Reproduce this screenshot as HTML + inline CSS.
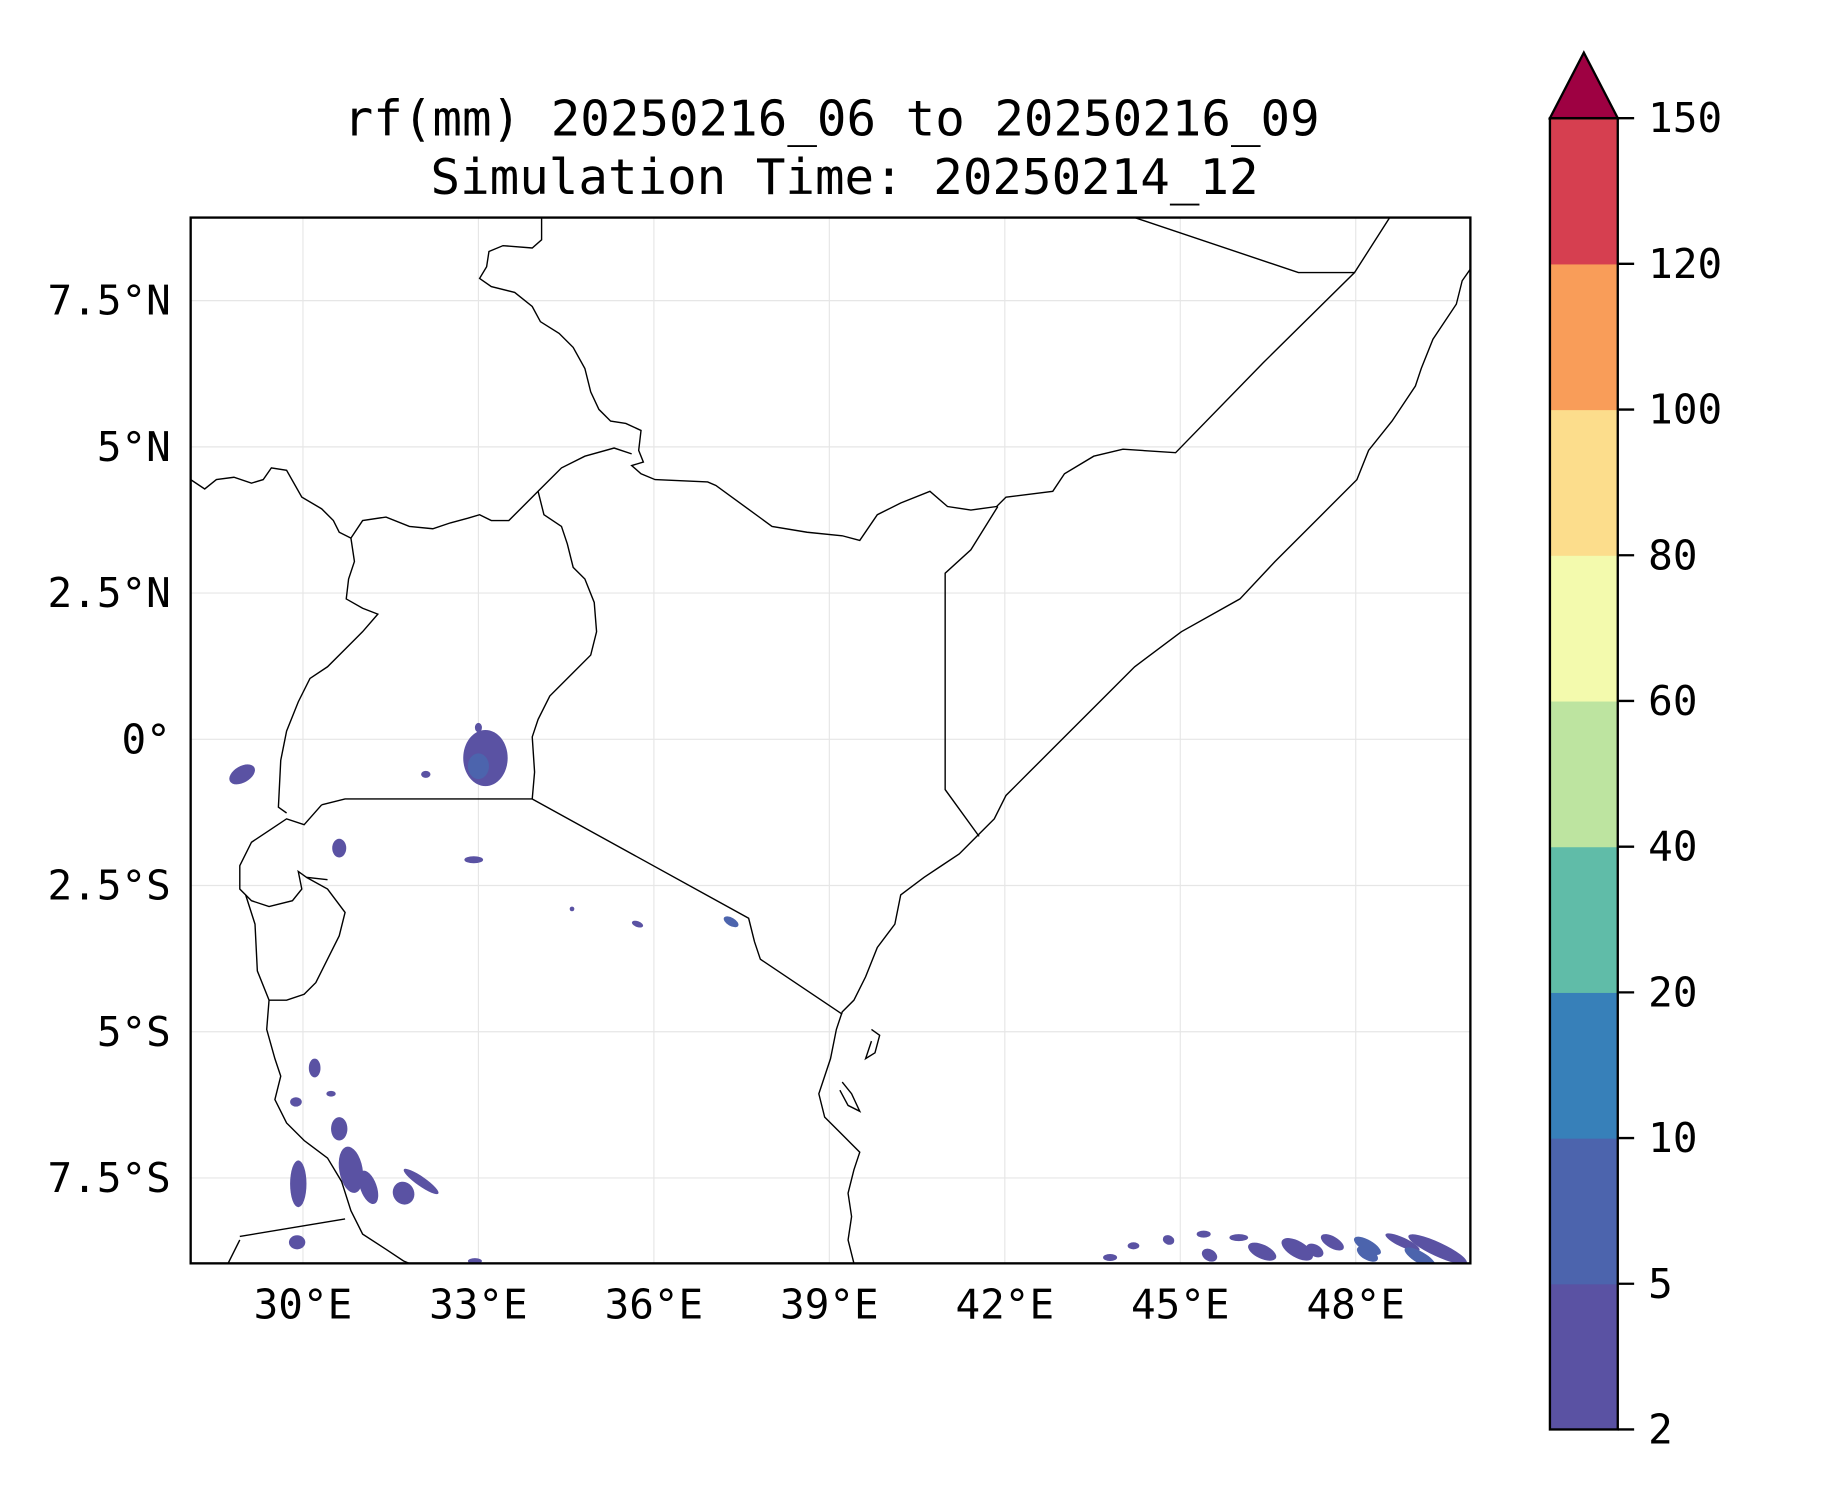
<!DOCTYPE html>
<html><head><meta charset="utf-8"><style>
html,body{margin:0;padding:0;background:#fff;}
svg{display:block;}
text{font-family:"DejaVu Sans Mono","Liberation Mono",monospace;fill:#000;}
</style></head><body>
<svg id="chart" width="1833" height="1500" viewBox="0 0 1567 1282.3" preserveAspectRatio="none" xmlns="http://www.w3.org/2000/svg">
<text x="711" y="116" font-size="42" text-anchor="middle">rf(mm) 20250216_06 to 20250216_09</text>
<text x="722" y="166" font-size="42" text-anchor="middle">Simulation Time: 20250214_12</text>
<defs><clipPath id="mapclip"><rect x="163" y="186" width="1094" height="894"/></clipPath></defs>
<g id="grid"></g>
<g id="blobs" clip-path="url(#mapclip)"></g>
<g id="borders" clip-path="url(#mapclip)" fill="none" stroke="#000" stroke-width="1.2"></g>
<rect x="163" y="186" width="1094" height="894" fill="none" stroke="#000" stroke-width="2"/>
<g id="axes"></g>
<g id="cbar"></g>
</svg>
<script>
const xTicks=[30,33,36,39,42,45,48];
const xTickLabels=["30°E","33°E","36°E","39°E","42°E","45°E","48°E"];
const yTicks=[7.5,5,2.5,0,-2.5,-5,-7.5];
const yTickLabels=["7.5°N","5°N","2.5°N","0°","2.5°S","5°S","7.5°S"];
const levels=[2,5,10,20,40,60,80,100,120,150];
const levelColors=["#5a52a3","#4c64ad","#3780b9","#60bca8","#bde4a0","#f3faad","#fcdd8c","#f99d59","#d63f50"];
const extendColor="#9e0142";
// rain cells: lon, lat, radius lon, radius lat, rotation, level index
const cellLon=[33.12,33.0,28.96,30.62,32.92,35.72,37.32,30.62,29.92,30.82,31.12,31.72,32.02,29.88,30.48,32.94,49.4,48.8,48.2,47.6,47.0,46.4,46.0,45.4,44.8,44.2,43.8,49.1,33.0,29.9,30.2,48.2,45.5,47.3,32.1,34.6];
const cellLat=[-0.32,-0.46,-0.6,-1.86,-2.06,-3.16,-3.12,-6.66,-7.6,-7.36,-7.66,-7.76,-7.56,-6.2,-6.06,-8.92,-8.72,-8.6,-8.66,-8.6,-8.72,-8.76,-8.52,-8.46,-8.56,-8.66,-8.86,-8.86,0.2,-8.6,-5.62,-8.8,-8.82,-8.74,-0.6,-2.9];
const cellRLon=[0.38,0.18,0.24,0.12,0.16,0.1,0.14,0.14,0.14,0.2,0.14,0.18,0.36,0.1,0.08,0.12,0.55,0.32,0.26,0.22,0.3,0.26,0.16,0.12,0.1,0.1,0.12,0.3,0.06,0.14,0.1,0.2,0.14,0.16,0.08,0.04];
const cellRLat=[0.48,0.22,0.14,0.16,0.06,0.05,0.07,0.2,0.4,0.4,0.3,0.2,0.08,0.08,0.05,0.05,0.12,0.08,0.1,0.1,0.14,0.12,0.06,0.06,0.08,0.06,0.06,0.1,0.08,0.12,0.16,0.1,0.1,0.1,0.06,0.04];
const cellRot=[0,0,-30,0,0,20,30,0,0,-10,-20,-30,35,0,0,0,25,25,30,30,30,25,0,0,20,0,0,30,0,0,0,30,30,30,0,0];
const cellLevel=[0,1,0,0,0,0,1,0,0,0,0,0,0,0,0,0,0,0,1,0,0,0,0,0,0,0,0,1,0,0,0,1,0,0,0,0];

const NS="http://www.w3.org/2000/svg";
const X=lon=>259+(lon-30)*50;
const Y=lat=>632-lat*50;
function mk(tag,attrs,parent){const e=document.createElementNS(NS,tag);for(const k in attrs)e.setAttribute(k,attrs[k]);parent.appendChild(e);return e;}
const grid=document.getElementById('grid'),axes=document.getElementById('axes');
xTicks.forEach((t,i)=>{
 const l=mk('line',{x1:X(t),x2:X(t),y1:186,y2:1080,stroke:'#e6e6e6','stroke-width':1},grid);
 
 
 const tx=mk('text',{x:X(t),y:1127,'font-size':35,'text-anchor':'middle'},axes);tx.textContent=xTickLabels[i];
 
 
});
yTicks.forEach((t,i)=>{
 const l=mk('line',{x1:163,x2:1257,y1:Y(t),y2:Y(t),stroke:'#e6e6e6','stroke-width':1},grid);
 
 
 const tx=mk('text',{x:146,y:Y(t)+12,'font-size':35,'text-anchor':'end'},axes);tx.textContent=yTickLabels[i];
 
 
});
const blobs=document.getElementById('blobs');
cellLon.forEach((lon,i)=>{
 const cx=X(lon),cy=Y(cellLat[i]);
 const e=mk('ellipse',{cx:cx,cy:cy,rx:cellRLon[i]*50,ry:cellRLat[i]*50,fill:levelColors[cellLevel[i]],transform:`rotate(${cellRot[i]} ${cx} ${cy})`},blobs);
 
 
});
const borderLines=[
"463,186 463,205 455,212 430,210 418,215 416,228 410,238 420,245 440,250 455,262 462,275 478,285 490,297 500,315 505,335 512,350 522,360 535,362 548,368 546,385 550,395 540,398 548,405 560,410 605,412 612,415 660,450 690,455 720,458 735,462 750,440 770,430 795,420 810,433 830,436 852,433 860,425 900,420 910,405 935,390 960,384 1005,387 1080,310 1158,233 1188,186",
"970,186 1110,233 1158,233",
"1257,230 1250,240 1245,260 1225,290 1215,315 1210,330 1190,360 1170,385 1160,410 1130,440 1090,480 1060,512 1010,540 970,570 940,600 900,640 880,660 860,680 850,700 835,715 820,730 805,740 790,750 770,765 765,790 750,810 740,835 730,855 720,865 715,880 710,905 700,935 705,955 720,970 735,985 730,1000 725,1020 728,1040 725,1060 730,1080",
"853,433 830,470 808,490 808,675 837,715",
"163,410 175,418 185,410 200,408 215,413 225,410 232,400 245,402 258,425 275,435 285,445 290,455 300,460 310,445 330,442 350,450 370,452 385,447 400,443 410,440 420,445 435,445 460,420 480,400 500,390 525,383 540,388",
"300,460 303,480 298,495 296,512 310,520 323,525 310,540 295,555 280,570 265,580 255,600 245,625 240,650 238,690 245,695",
"460,420 465,440 480,450 485,465 490,485 500,495 508,515 510,540 505,560 490,575 470,595 460,615 455,630 457,660 455,683",
"455,683 640,785 645,805 650,820 720,867",
"275,688 295,683 455,683",
"275,688 260,705 245,700 230,710 215,720 205,740 205,760 215,770 230,775 250,770 258,760 255,745 262,750 280,752",
"210,765 218,790 220,830 230,855 228,880 235,905 240,920 235,940 245,960 260,975 280,990 292,1010 300,1035 310,1055 330,1068 345,1078 350,1080",
"262,750 280,760 295,780 290,800 280,820 270,840 260,850 245,855 230,855",
"205,1057 295,1042","195,1080 205,1060",
"745,880 752,885 748,900 740,905 745,890","720,925 728,935 735,950 725,945 718,932"];
const borders=document.getElementById('borders');
borderLines.forEach(p=>{const e=mk('polyline',{points:p},borders);
 
 });
const cb=document.getElementById('cbar');
const cbTop=101,cbBot=1222,cbL=1325,cbR=1383,seg=(cbBot-cbTop)/(levels.length-1);
levelColors.forEach((c,i)=>{
 const r=mk('rect',{x:cbL,y:cbBot-(i+1)*seg,width:cbR-cbL,height:seg+0.5,fill:c},cb);
 
 
});
const tri=mk('polygon',{points:`${cbL},${cbTop} ${(cbL+cbR)/2},45 ${cbR},${cbTop}`,fill:extendColor,stroke:'#000','stroke-width':2},cb);


const fr=mk('rect',{x:cbL,y:cbTop,width:cbR-cbL,height:cbBot-cbTop,fill:'none',stroke:'#000','stroke-width':2},cb);


levels.forEach((v,i)=>{
 const y=cbBot-i*seg;
 mk('line',{x1:cbR,x2:cbR+14,y1:y,y2:y,stroke:'#000','stroke-width':2},cb);
 const t=mk('text',{x:1409,y:y+12,'font-size':35},cb);t.textContent=v;
 
 
});
</script>
</body></html>
